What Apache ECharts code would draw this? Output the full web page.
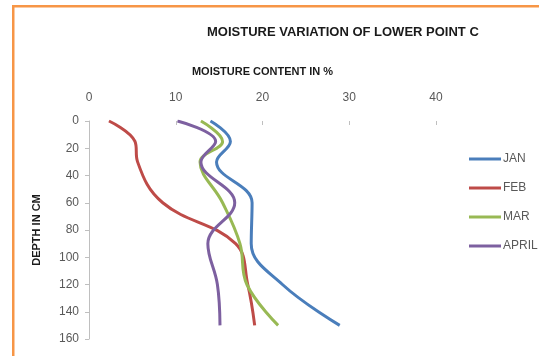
<!DOCTYPE html>
<html>
<head>
<meta charset="utf-8">
<script src="https://cdn.jsdelivr.net/npm/echarts@6/dist/echarts.min.js"></script>
<style>
  html, body { margin: 0; padding: 0; background: #fff; }
  #chart { width: 539px; height: 356px; }
</style>
</head>
<body>
<div id="chart"></div>
<script>
// Sampling depths (cm) and moisture content (%) per month
const depths = [0, 15, 30, 60, 90, 120, 150];
const jan   = [14.0, 16.3, 14.7, 18.8, 18.7, 22.3, 28.9];
const feb   = [2.3, 5.3, 5.6, 8.5, 16.9, 18.3, 19.1];
const mar   = [12.9, 15.4, 12.8, 15.4, 17.4, 18.2, 21.8];
const april = [10.2, 14.6, 12.9, 16.8, 13.7, 14.8, 15.1];

const xTicks = [0, 10, 20, 30, 40];
const yTicks = [0, 20, 40, 60, 80, 100, 120, 140, 160];

const seriesDefs = [
  { name: 'JAN',   values: jan,   color: '#4A7EBB' },
  { name: 'FEB',   values: feb,   color: '#BE4B48' },
  { name: 'MAR',   values: mar,   color: '#98B954' },
  { name: 'APRIL', values: april, color: '#7D60A0' }
];

const chart = echarts.init(document.getElementById('chart'), null, { renderer: 'canvas' });

const labelFont = { color: '#595959', fontSize: 12, fontFamily: 'Liberation Sans' };

chart.setOption({
  animation: false,
  backgroundColor: '#fff',
  graphic: [
    // chart frame (left and top edges)
    { type: 'rect', shape: { x: 12, y: 5, width: 2.5, height: 351 }, style: { fill: '#F79646' } },
    { type: 'rect', shape: { x: 12, y: 5, width: 527, height: 2.5 }, style: { fill: '#F79646' } },
    {
      type: 'text', left: 207, top: 26,
      style: { text: 'MOISTURE VARIATION OF LOWER POINT C', fill: '#1a1a1a',
               font: 'bold 13px "Liberation Sans"' }
    }
  ],
  grid: { left: 89, top: 121, width: 347, bottom: 17 },
  legend: {
    orient: 'vertical',
    left: 464, top: 148,
    icon: 'rect',
    itemWidth: 32, itemHeight: 3, itemGap: 17,
    textStyle: { color: '#595959', fontSize: 12, fontFamily: 'Liberation Sans', padding: [0, 0, 0, -3] },
    data: seriesDefs.map(s => s.name)
  },
  xAxis: {
    type: 'value', position: 'top',
    min: xTicks[0], max: xTicks[xTicks.length - 1], interval: 10,
    name: 'MOISTURE CONTENT IN %', nameLocation: 'middle', nameGap: 44,
    nameTextStyle: { color: '#1a1a1a', fontWeight: 'bold', fontSize: 11, fontFamily: 'Liberation Sans' },
    axisLine: { show: false },
    axisTick: { show: true, inside: true, length: 4, lineStyle: { color: '#bfbfbf' } },
    axisLabel: Object.assign({ margin: 17 }, labelFont),
    splitLine: { show: false }
  },
  yAxis: {
    type: 'value', inverse: true,
    min: yTicks[0], max: yTicks[yTicks.length - 1], interval: 20,
    name: 'DEPTH IN CM', nameLocation: 'middle', nameGap: 47, nameRotate: 90,
    nameTextStyle: { color: '#1a1a1a', fontWeight: 'bold', fontSize: 11, fontFamily: 'Liberation Sans' },
    axisLine: { show: true, lineStyle: { color: '#bfbfbf', width: 1 } },
    axisTick: { show: true, length: 4, lineStyle: { color: '#bfbfbf' } },
    axisLabel: Object.assign({ margin: 10 }, labelFont),
    splitLine: { show: false }
  },
  series: seriesDefs.map(s => ({
    name: s.name,
    type: 'line',
    smooth: 0.4,
    symbol: 'none',
    color: s.color,
    lineStyle: { color: s.color, width: 3 },
    data: s.values.map((v, i) => [v, depths[i]])
  }))
});
</script>
</body>
</html>
